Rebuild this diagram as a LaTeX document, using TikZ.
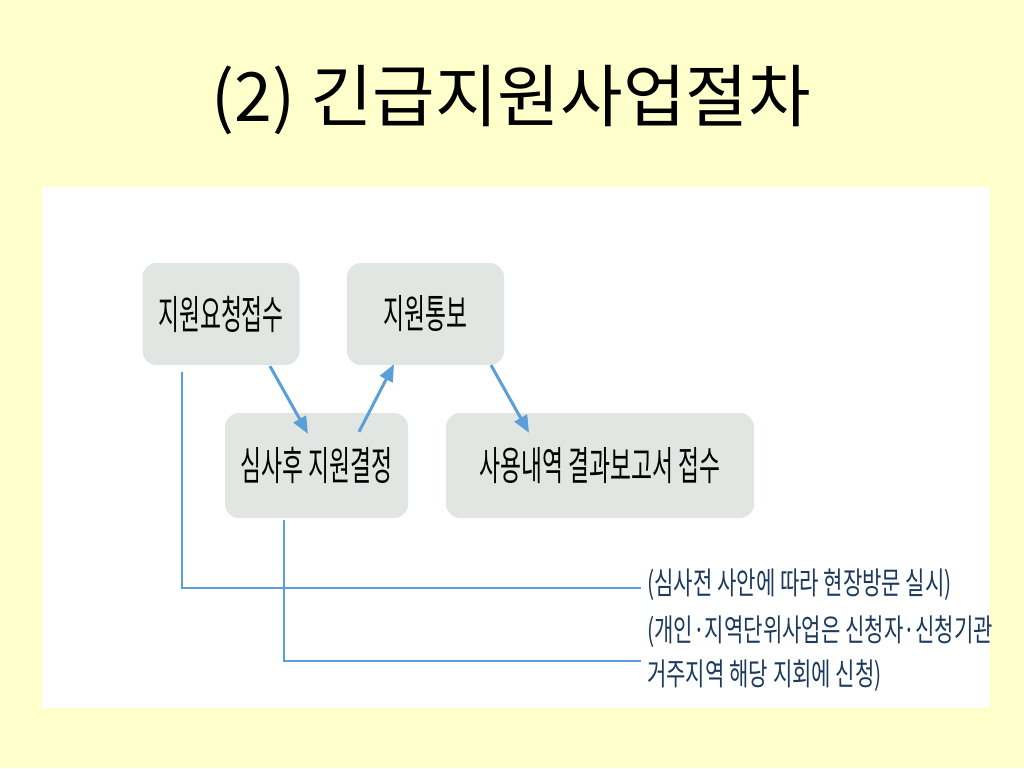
\documentclass[tikz,border=0pt]{standalone}
\usepackage{fontspec}
\usetikzlibrary{arrows.meta,calc}
\newfontfamily\titlefont{Noto Sans CJK KR}
\newfontfamily\boxfont[FakeStretch=0.57]{Noto Sans CJK KR}
\newfontfamily\notefont[FakeStretch=0.68]{Noto Sans CJK KR}
\definecolor{slidebg}{HTML}{FFFFCC}
\definecolor{boxfill}{HTML}{E1E6E2}
\definecolor{flowblue}{HTML}{5A9FD8}
\definecolor{notenavy}{HTML}{1B3A5C}
\tikzset{
  stepbox/.style={fill=boxfill,rounded corners=14pt,inner sep=0pt,
    font=\boxfont\fontsize{40}{46}\selectfont,text=black},
  arr/.style={draw=flowblue,line width=3pt,-{Triangle[length=17pt,width=14pt]}},
  line/.style={draw=flowblue,line width=2pt},
  note/.style={anchor=west,inner sep=6pt,text=notenavy,
    font=\notefont\fontsize{31}{36}\selectfont}
}
\begin{document}
\begin{tikzpicture}[x=1pt,y=-1pt]
          \useasboundingbox (0,0) rectangle (1024,768);
          \fill[slidebg] (0,0) rectangle (1024,768);
          \fill[white] (42,187) rectangle (990,708);
          \node (title) at (511,100) {\titlefont\fontsize{68}{76}\selectfont (2) 긴급지원사업절차};
          \node[stepbox,minimum width=157pt,minimum height=102pt] (A) at (221,314) {지원요청접수};
          \node[stepbox,minimum width=157pt,minimum height=102pt] (B) at (425.5,314) {지원통보};
          \node[stepbox,minimum width=183pt,minimum height=105pt] (C) at (316.5,465.5) {심사후 지원결정};
          \node[stepbox,minimum width=308pt,minimum height=105pt] (D) at (600,465.5) {사용내역 결과보고서 접수};
          \node[note] (t1) at (641,585) {(심사전 사안에 따라 현장방문 실시)};
          \node[note] (t2) at (641,632) {(개인·지역단위사업은 신청자·신청기관};
          \node[note] (t3) at (641,676) {거주지역 해당 지회에 신청)};
          \draw[arr] ($(A.south)+(49,1)$) -- ($(C.north)+(-8.5,21)$);
          \draw[arr] ($(C.north)+(42.5,19)$) -- ($(B.south)+(-31.5,-1)$);
          \draw[arr] ($(B.south)+(65.5,0)$) -- ($(D.north)+(-71,20)$);
          \draw[line] ($(A.south)+(-39,7)$) |- ($(t1.west)+(0,3)$);
          \draw[line] ($(C.south)+(-32.5,2)$) |- ($(t3.west)+(0,-15)$);
        \end{tikzpicture}
\end{document}
